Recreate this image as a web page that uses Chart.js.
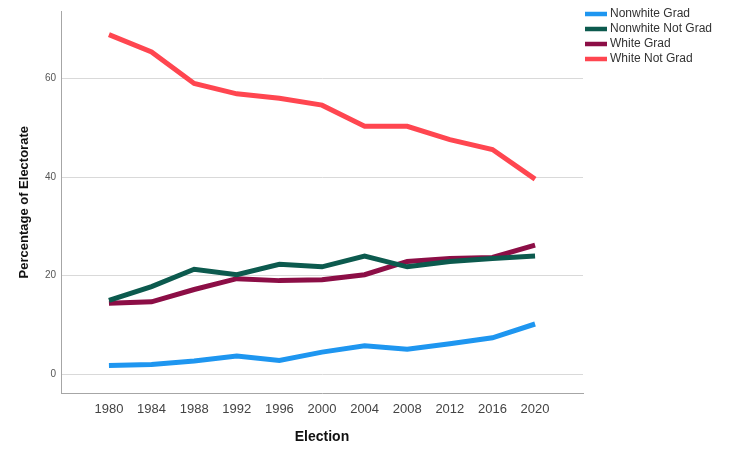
<!DOCTYPE html>
<html>
<head>
<meta charset="utf-8">
<script src="https://cdn.jsdelivr.net/npm/chart.js@4"></script>
<style>
  body { margin: 0; background: #fff; }
  #wrap { width: 747px; height: 460px; }
</style>
</head>
<body>
<div id="wrap"><canvas id="myChart"></canvas></div>
<script>
const years = [1980, 1984, 1988, 1992, 1996, 2000, 2004, 2008, 2012, 2016, 2020];
const nonwhiteGrad = [1.8, 2.0, 2.7, 3.7, 2.8, 4.5, 5.8, 5.1, 6.2, 7.4, 10.2];
const nonwhiteNotGrad = [15.0, 17.8, 21.3, 20.2, 22.3, 21.8, 24.0, 21.8, 22.9, 23.5, 24.0];
const whiteGrad = [14.4, 14.7, 17.2, 19.4, 19.0, 19.2, 20.2, 22.9, 23.5, 23.7, 26.2];
const whiteNotGrad = [68.9, 65.4, 59.0, 56.9, 56.0, 54.6, 50.3, 50.3, 47.6, 45.6, 39.6];
const yTicks = [0, 20, 40, 60];

Chart.defaults.font.family = "'Liberation Sans', Arial, sans-serif";

function serie(label, vals, color) {
  return {
    label: label,
    data: years.map((yr, i) => ({ x: yr, y: vals[i] })),
    borderColor: color,
    backgroundColor: color,
    borderWidth: 5,
    pointRadius: 0,
    tension: 0,
    fill: false
  };
}

// legenda desenhada a mao, no canto superior direito
const legendaPlugin = {
  id: 'legenda',
  afterDraw(chart) {
    const ctx = chart.ctx;
    ctx.save();
    ctx.font = "12px 'Liberation Sans', Arial, sans-serif";
    ctx.textBaseline = 'middle';
    ctx.textAlign = 'left';
    chart.data.datasets.forEach((ds, i) => {
      const y = 14 + i * 15;
      ctx.fillStyle = ds.borderColor;
      ctx.fillRect(585, y - 2.25, 22, 4.5);
      ctx.fillStyle = '#333';
      ctx.fillText(ds.label, 610, y);
    });
    ctx.restore();
  }
};

new Chart(document.getElementById('myChart'), {
  type: 'line',
  data: {
    datasets: [
      serie('Nonwhite Grad', nonwhiteGrad, '#1e96f0'),
      serie('Nonwhite Not Grad', nonwhiteNotGrad, '#0c5a4e'),
      serie('White Grad', whiteGrad, '#8c0e46'),
      serie('White Not Grad', whiteNotGrad, '#ff4650')
    ]
  },
  options: {
    responsive: true,
    maintainAspectRatio: false,
    animation: false,
    layout: { padding: { top: 7, right: 164, bottom: 0, left: 0 } },
    plugins: { legend: { display: false }, tooltip: { enabled: false } },
    scales: {
      x: {
        type: 'linear',
        min: 1975.5,
        max: 2024.5,
        afterBuildTicks: s => { s.ticks = years.map(v => ({ value: v })); },
        afterFit: s => { s.height = 66.5; },
        grid: { display: false, drawTicks: false },
        border: { display: true, color: '#a6a6a6', width: 1 },
        ticks: {
          padding: 8,
          color: '#444',
          font: { size: 13 },
          maxRotation: 0,
          autoSkip: false,
          callback: v => String(v)
        },
        title: {
          display: true,
          text: 'Election',
          color: '#111',
          font: { size: 14, weight: 'bold' },
          padding: { top: 0, bottom: 14 }
        }
      },
      y: {
        min: -3.9,
        max: 73.7,
        afterBuildTicks: s => { s.ticks = yTicks.map(v => ({ value: v })); },
        afterFit: s => { s.width = 61; },
        grid: { color: '#d9d9d9', lineWidth: 1, drawTicks: false },
        border: { display: true, color: '#a6a6a6', width: 1 },
        ticks: {
          padding: 5,
          color: '#555',
          font: { size: 10 },
          callback: v => String(v)
        },
        title: {
          display: true,
          text: 'Percentage of Electorate',
          color: '#111',
          font: { size: 13, weight: 'bold' },
          padding: { top: 17, bottom: 0 }
        }
      }
    }
  },
  plugins: [legendaPlugin]
});
</script>
</body>
</html>
